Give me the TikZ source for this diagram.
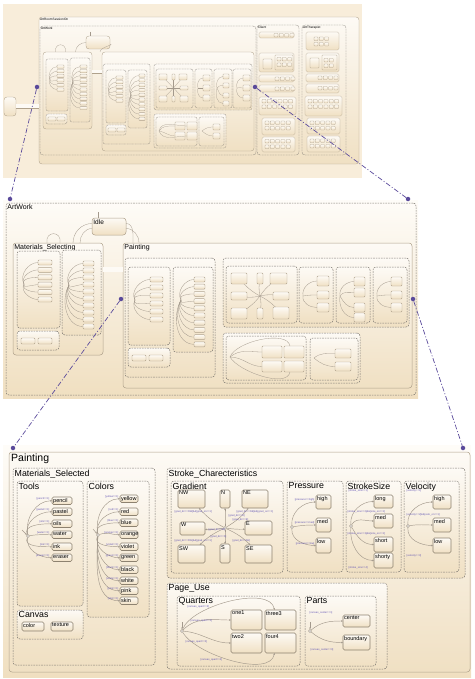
\documentclass[tikz,border=0pt]{standalone}
\usepackage{fontspec}
\setmainfont{Liberation Sans}
\usetikzlibrary{positioning, arrows.meta, calc}
\definecolor{panelTop}{HTML}{FEFCF8}
\definecolor{panelBot}{HTML}{F0DFC0}
\definecolor{panelFlat}{HTML}{F8EDDA}
\definecolor{stateTop}{HTML}{FDFAF5}
\definecolor{stateBot}{HTML}{F0E0C3}
\definecolor{stateLine}{HTML}{B0A28C}
\definecolor{groupLine}{HTML}{7F7A73}
\definecolor{transCol}{HTML}{A3998C}
\definecolor{labelCol}{HTML}{6659B5}
\definecolor{linkCol}{HTML}{5A4A9B}

\begin{document}
\begin{tikzpicture}[
    x=1pt, y=-1pt,
    % Node styles
    wh/.style 2 args={minimum width=#1, minimum height=#2},
    sstate/.style={
        rectangle,
        rounded corners=3pt,
        draw=stateLine,
        top color=stateTop,
        bottom color=stateBot,
        line width=0.5pt,
        inner sep=0pt,
        outer sep=0pt,
        anchor=north west
    },
    stbox/.style={
        sstate,
        rounded corners=1.5pt,
        draw=stateLine!80!black,
        line width=0.6pt
    },
    midbox/.style={
        sstate,
        rounded corners=1pt,
        line width=0.45pt
    },
    smallbox/.style={
        sstate,
        rounded corners=0.6pt,
        line width=0.3pt
    },
    dashbox/.style={
        rectangle,
        rounded corners=3pt,
        draw=groupLine,
        dash pattern=on 1.6pt off 1pt,
        line width=0.5pt,
        inner sep=0pt,
        outer sep=0pt,
        anchor=north west
    },
    grp/.style={
        dashbox,
        top color=stateTop,
        bottom color=stateBot
    },
    tinygrp/.style={
        grp,
        rounded corners=2pt,
        line width=0.3pt,
        dash pattern=on 1pt off 0.6pt
    },
    junction/.style={
        circle,
        draw=transCol,
        fill=white,
        line width=0.4pt,
        inner sep=0pt,
        minimum size=3pt
    },
    trans/.style={
        draw=transCol,
        line width=0.45pt,
        -{Stealth[length=2pt, width=1.6pt]}
    },
    thintrans/.style={
        draw=transCol,
        line width=0.3pt
    },
    pipe/.style={
        draw=stateLine,
        line width=0.4pt,
        double=stateTop,
        double distance=4.5pt
    },
    link/.style={
        draw=linkCol,
        line width=0.7pt,
        dash pattern=on 5pt off 2pt on 1pt off 2pt
    },
    zdot/.style={
        circle,
        fill=linkCol,
        inner sep=0pt,
        minimum size=4.5pt
    },
    % Text styles
    bigttl/.style={anchor=north west, inner sep=2pt, font=\fontsize{10.5}{12}\selectfont},
    ttl/.style={anchor=north west, inner sep=1.5pt, font=\fontsize{8.8}{10}\selectfont},
    midttl/.style={anchor=north west, inner sep=1.2pt, font=\fontsize{7}{8}\selectfont},
    tinyttl/.style={anchor=north west, inner sep=0.8pt, font=\fontsize{3.2}{3.5}\selectfont},
    stxt/.style={anchor=north west, inner sep=1pt, font=\fontsize{5.5}{6}\selectfont},
    tlab/.style={font=\fontsize{2.6}{3}\selectfont, text=labelCol, inner sep=0.4pt}
]
    \useasboundingbox (0,0) rectangle (474,679);

    % ==== PANEL 1: SESSION OVERVIEW ====
    \fill[panelFlat] (3,4) rectangle (362,178);
    \node[sstate, line width=0.35pt, wh={12}{19}] (offA) at (4,97) {};
    \node[sstate, line width=0.35pt, wh={320}{147}, label={[tinyttl]north west:ArtRoomSessionOn}] (sessA) at (39,17) {};
    \draw[pipe, line width=0.3pt, double distance=4pt] (offA.east) -- (offA.east -| sessA.west);
    \node[dashbox, line width=0.35pt, dash pattern=on 1pt off 0.6pt, wh={216}{129}, label={[tinyttl]north west:ArtWork}] (artA) at (40,26) {};

    \node[sstate, line width=0.35pt, wh={24}{13}] (idleA) at (86,36) {};
    \coordinate (idleAin) at (90,32);
    \draw[thintrans, line width=0.2pt] (idleAin) -- (idleAin |- idleA.north);

    % Materials_Selecting (thumbnail)
    \node[sstate, line width=0.35pt, wh={49}{77}] (matA) at (43,52) {};
    \node[tinygrp, wh={22}{52}] (toolsA) at (46,59) {};
    \node[tinygrp, wh={20}{64}] (colorsA) at (70,58) {};
    \node[tinygrp, wh={21}{10}] (canvasA) at (46,114) {};
    \foreach \i in {0,...,5} \node[smallbox, wh={7}{3.2}] (toolA\i) at (57,65+4.6*\i) {};
    \foreach \i in {0,...,9} \node[smallbox, wh={7}{3.2}] (colA\i) at (80,65+4.6*\i) {};
    \node[smallbox, wh={8}{4}] (cvA1) at (48,117) {};
    \node[smallbox, wh={8}{4}] (cvA2) at (57,117) {};
    \coordinate (jToolsA) at (50,80);
    \coordinate (jColorsA) at (73,82);
    \foreach \i in {0,...,5}{
        \pgfmathsetmacro\o{\i<3 ? 120 : -120}
        \draw[thintrans, line width=0.2pt] (jToolsA) to[out=\o, in=180] (toolA\i);
    }
    \foreach \i in {0,...,9}{
        \pgfmathsetmacro\o{\i<4 ? 120 : -120}
        \draw[thintrans, line width=0.2pt] (jColorsA) to[out=\o, in=180] (colA\i);
    }
    \draw[thintrans, line width=0.25pt] ([xshift=-12pt]matA.north) to[out=100, in=80, looseness=2.5] ([xshift=-2pt]matA.north);
    \draw[thintrans, line width=0.25pt] ([xshift=8pt]matA.north) to[out=90, in=180] (idleA.west);
    \draw[thintrans, line width=0.25pt] ([yshift=-2pt]idleA.east) to[out=0, in=90] ([xshift=8pt]matA.north east);

    % Painting (thumbnail)
    \node[sstate, line width=0.35pt, wh={152}{99}] (paintA) at (102,52) {};
    \draw[pipe, line width=0.3pt, double distance=3pt] (matA.east |- 0,72) -- (paintA.west |- 0,72);
    \node[tinygrp, wh={47}{80}] (matSelA) at (103,64) {};
    \node[tinygrp, wh={20}{53}] (toolsAp) at (106,70) {};
    \node[tinygrp, wh={19}{58}] (colorsAp) at (128,70) {};
    \node[tinygrp, wh={20}{10}] (canvasAp) at (106,125) {};
    \foreach \i in {0,...,5} \node[smallbox, wh={7}{3.2}] (toolAp\i) at (116,76+4.6*\i) {};
    \foreach \i in {0,...,9} \node[smallbox, wh={6}{3.2}] (colAp\i) at (139,74+4.8*\i) {};
    \node[smallbox, wh={8}{4}] (cvAp1) at (108,128) {};
    \node[smallbox, wh={8}{4}] (cvAp2) at (117,128) {};
    \coordinate (jToolsAp) at (109,92);
    \coordinate (jColorsAp) at (131,95);
    \foreach \i in {0,...,5}{
        \pgfmathsetmacro\o{\i<3 ? 120 : -120}
        \draw[thintrans, line width=0.2pt] (jToolsAp) to[out=\o, in=180] (toolAp\i);
    }
    \foreach \i in {0,...,9}{
        \pgfmathsetmacro\o{\i<4 ? 120 : -120}
        \draw[thintrans, line width=0.2pt] (jColorsAp) to[out=\o, in=180] (colAp\i);
    }

    \node[tinygrp, wh={98}{46}] (strokeA) at (154,64) {};
    \node[tinygrp, wh={37}{39}] (gradA) at (156,69) {};
    \node[tinygrp, wh={17}{39}] (pressA) at (195,69) {};
    \node[tinygrp, wh={18}{39}] (sizeA) at (214,69) {};
    \node[tinygrp, wh={18}{39}] (veloA) at (233,69) {};
    \foreach \nm/\x/\y/\w/\h in {NW/159/74/8/6, N/172/74/3/6, NE/179/74/8/6, W/159/86/8/4, E/180/86/8/4, SW/159/96/8/6, S/172/96/3/6, SE/180/96/8/6}
        \node[smallbox, wh={\w}{\h}] (gA\nm) at (\x,\y) {};
    \coordinate (jGradA) at (173.5,88);
    \foreach \nm in {NW,N,NE,W,E,SW,S,SE} \draw[thintrans, line width=0.2pt] (jGradA) -- (gA\nm);
    \foreach \y [count=\k] in {75,85,95} \node[smallbox, wh={7}{6}] (pA\k) at (203,\y) {};
    \foreach \y [count=\k] in {74,83,93,101} \node[smallbox, wh={6}{5}] (sA\k) at (223,\y) {};
    \foreach \y [count=\k] in {75,85,95} \node[smallbox, wh={7}{6}] (vA\k) at (243,\y) {};
    \coordinate (jPressA) at (198,88);
    \coordinate (jSizeA) at (217,88);
    \coordinate (jVeloA) at (237,88);
    \foreach \k/\o in {1/110, 2/20, 3/-110} \draw[thintrans, line width=0.2pt] (jPressA) to[out=\o, in=180] (pA\k);
    \foreach \k/\o in {1/110, 2/60, 3/-60, 4/-110} \draw[thintrans, line width=0.2pt] (jSizeA) to[out=\o, in=180] (sA\k);
    \foreach \k/\o in {1/110, 2/20, 3/-110} \draw[thintrans, line width=0.2pt] (jVeloA) to[out=\o, in=180] (vA\k);

    \node[tinygrp, wh={72}{34}] (pageA) at (154,114) {};
    \node[tinygrp, wh={41}{29}] (quartA) at (156,117) {};
    \node[tinygrp, wh={25}{29}] (partsA) at (199,117) {};
    \foreach \x/\y [count=\k] in {175/122, 187/122, 175/132, 187/132} \node[smallbox, wh={10}{8}] (qA\k) at (\x,\y) {};
    \node[smallbox, wh={7}{6}] (ptA1) at (213,124) {};
    \node[smallbox, wh={7}{6}] (ptA2) at (213,133) {};
    \coordinate (jQuartA) at (159,131);
    \coordinate (jPartsA) at (202,131);
    \foreach \k/\o in {1/60, 2/80, 3/-10, 4/-70} \draw[thintrans, line width=0.2pt] (jQuartA) to[out=\o, in=180] (qA\k);
    \draw[thintrans, line width=0.2pt] (jPartsA) to[out=40, in=180] (ptA1);
    \draw[thintrans, line width=0.2pt] (jPartsA) to[out=-40, in=180] (ptA2);

    % Client and ArtTherapist (thumbnail)
    \node[dashbox, line width=0.35pt, dash pattern=on 1pt off 0.6pt, wh={42}{130}, label={[tinyttl]north west:Client}] (clientA) at (257,25) {};
    \node[dashbox, line width=0.35pt, dash pattern=on 1pt off 0.6pt, wh={44}{130}, label={[tinyttl]north west:ArtTherapist}] (therA) at (302,25) {};
    \foreach \x/\y/\w/\h [count=\k] in {259/32/35/6, 259/53/35/19, 259/75/35/7, 259/85/35/7, 259/97/37/18, 262/118/33/17, 262/137/33/15}
        \node[sstate, rounded corners=1.5pt, line width=0.3pt, wh={\w}{\h}] (clA\k) at (\x,\y) {};
    \foreach \x/\y/\w/\h [count=\k] in {306/32/33/18, 306/53/33/19, 306/74/33/8, 306/84/33/9, 305/96/37/20, 307/118/33/16, 307/136/33/16}
        \node[sstate, rounded corners=1.5pt, line width=0.3pt, wh={\w}{\h}] (thA\k) at (\x,\y) {};
    \node[smallbox, wh={9}{10}] (clSq) at (263,59) {};
    \node[smallbox, wh={18}{15}] (clSub) at (275,55) {};
    \node[smallbox, wh={9}{10}] (thSq) at (310,58) {};
    \node[smallbox, wh={15}{15}] (thSub) at (322,55) {};
    \foreach \x/\y/\nc/\nr [count=\k] in {274/33.5/4/1, 277/57.5/3/2, 275/77/4/1, 275/87/4/1, 262/99.5/6/2, 265/121/5/2, 265/139.5/5/2}
        \foreach \c in {1,...,\nc} \foreach \r in {1,...,\nr}
            \node[smallbox, line width=0.25pt, wh={4}{3.5}] (sqC\k-\c-\r) at ({\x+5.3*(\c-1)},{\y+5.5*(\r-1)}) {};
    \foreach \x/\y/\nc/\nr [count=\k] in {314/37/3/2, 324/58.5/2/2, 318/76/4/1, 318/86.5/4/1, 308/99.5/6/2, 310/121/5/2, 310/139/5/2}
        \foreach \c in {1,...,\nc} \foreach \r in {1,...,\nr}
            \node[smallbox, line width=0.25pt, wh={4}{3.5}] (sqT\k-\c-\r) at ({\x+5.3*(\c-1)},{\y+5.5*(\r-1)}) {};

    % ==== PANEL 2: ARTWORK ====
    \fill[top color=panelTop, bottom color=panelBot] (3,200) rectangle (418,398);
    \node[dashbox, wh={410}{192}, label={[midttl]north west:ArtWork}] (artB) at (6,203) {};
    \node[sstate, wh={34}{17}, label={[midttl, font=\fontsize{6.5}{7}\selectfont]north west:Idle}] (idleB) at (92,218) {};
    \coordinate (idleBin) at (98,212);
    \draw[thintrans] (idleBin) -- (idleBin |- idleB.north);

    % Materials_Selecting
    \node[sstate, wh={90}{112}, label={[midttl]north west:Materials\_Selecting}] (matB) at (13,243) {};
    \node[grp, wh={43}{77}] (toolsB) at (17,251) {};
    \node[grp, wh={39}{85}] (colorsB) at (62,250) {};
    \node[grp, wh={42}{19}] (canvasB) at (17,331) {};
    \foreach \i in {0,...,5} \node[midbox, wh={14}{5}] (toolB\i) at (38,260+7.4*\i) {};
    \foreach \i in {0,...,9} \node[midbox, wh={11}{5}] (colB\i) at (83,261+7*\i) {};
    \node[midbox, wh={14}{6}] (cvB1) at (21,338) {};
    \node[midbox, wh={14}{6}] (cvB2) at (38,338) {};
    \coordinate (jToolsB) at (24,284);
    \coordinate (jColorsB) at (69,285);
    \foreach \i in {0,...,5}{
        \pgfmathsetmacro\o{\i<3 ? 120 : -120}
        \draw[thintrans] (jToolsB) to[out=\o, in=180] (toolB\i);
    }
    \foreach \i in {0,...,9}{
        \pgfmathsetmacro\o{\i<3 ? 120 : -120}
        \draw[thintrans] (jColorsB) to[out=\o, in=180] (colB\i);
    }
    \draw[thintrans] ([xshift=-11pt]matB.north) to[out=100, in=80, looseness=2.5] ([xshift=2pt]matB.north);
    \draw[thintrans] ([xshift=15pt]matB.north) to[out=90, in=180] ([yshift=3pt]idleB.west);
    \draw[thintrans] ([yshift=-2pt]idleB.west) to[out=180, in=90] ([xshift=22pt]matB.north);

    % Painting
    \node[sstate, wh={289}{145}, label={[midttl]north west:Painting}] (paintB) at (123,243) {};
    \draw[thintrans] ([yshift=3pt]idleB.east) to[out=0, in=90] ([xshift=10pt]paintB.north west);
    \draw[thintrans] ([yshift=-2pt]idleB.east) to[out=0, in=90] ([xshift=16pt]paintB.north west);
    \draw[pipe] (matB.east |- 0,269.5) -- (paintB.west |- 0,269.5);
    \node[grp, wh={90}{119}] (matSelB) at (125,258) {};
    \node[grp, wh={42}{78}] (toolsBp) at (128,267) {};
    \node[grp, wh={40}{85}] (colorsBp) at (173,267) {};
    \node[grp, wh={42}{19}] (canvasBp) at (128,348) {};
    \foreach \i in {0,...,5} \node[midbox, wh={13}{5}] (toolBp\i) at (150,277+8*\i) {};
    \foreach \i in {0,...,9} \node[midbox, wh={11}{5}] (colBp\i) at (194,277+7.2*\i) {};
    \node[midbox, wh={14}{6}] (cvBp1) at (132,355) {};
    \node[midbox, wh={14}{6}] (cvBp2) at (149,355) {};
    \coordinate (jToolsBp) at (135,300);
    \coordinate (jColorsBp) at (181,300);
    \foreach \i in {0,...,5}{
        \pgfmathsetmacro\o{\i<3 ? 120 : -120}
        \draw[thintrans] (jToolsBp) to[out=\o, in=180] (toolBp\i);
    }
    \foreach \i in {0,...,9}{
        \pgfmathsetmacro\o{\i<3 ? 120 : -120}
        \draw[thintrans] (jColorsBp) to[out=\o, in=180] (colBp\i);
    }

    \node[grp, wh={186}{69}] (strokeB) at (223,258) {};
    \node[grp, wh={71}{57}] (gradB) at (226,266) {};
    \node[grp, wh={34}{56}] (pressB) at (299,267) {};
    \node[grp, wh={34}{56}] (sizeB) at (336,267) {};
    \node[grp, wh={34}{56}] (veloB) at (373,267) {};
    \foreach \nm/\x/\y/\w/\h in {NW/231/273/16/11, N/257/273/6/11, NE/270/273/17/11, W/231/292/16/8, E/273/292/16/8, SW/231/308/16/11, S/257/308/6/11, SE/273/307/16/12}
        \node[midbox, wh={\w}{\h}] (gB\nm) at (\x,\y) {};
    \coordinate (jGradB) at (260,296);
    \foreach \nm in {NW,N,NE,W,E,SW,S,SE} \draw[thintrans] (jGradB) to[bend left=8] (gB\nm);
    \foreach \y/\h [count=\k] in {276/10, 291/8, 303/9} \node[midbox, wh={12}{\h}] (pB\k) at (317,\y) {};
    \foreach \y [count=\k] in {277, 288, 303, 313} \node[midbox, wh={11}{9}] (sB\k) at (354,\y) {};
    \foreach \y/\h [count=\k] in {277/9, 291/8, 303/9} \node[midbox, wh={11}{\h}] (vB\k) at (391,\y) {};
    \coordinate (jPressB) at (303,296);
    \coordinate (jSizeB) at (340,296);
    \coordinate (jVeloB) at (377,296);
    \foreach \k/\o in {1/100, 2/10, 3/-100} \draw[thintrans] (jPressB) to[out=\o, in=180] (pB\k);
    \foreach \k/\o in {1/100, 2/60, 3/-60, 4/-100} \draw[thintrans] (jSizeB) to[out=\o, in=180] (sB\k);
    \foreach \k/\o in {1/100, 2/10, 3/-100} \draw[thintrans] (jVeloB) to[out=\o, in=180] (vB\k);

    \node[grp, wh={137}{50}] (pageB) at (223,333) {};
    \node[grp, wh={80}{44}] (quartB) at (226,336) {};
    \node[grp, wh={48}{42}] (partsB) at (310,338) {};
    \foreach \x/\y/\h [count=\k] in {262/346/12, 284/346/12, 262/361/11, 284/361/11} \node[midbox, wh={20}{\h}] (qB\k) at (\x,\y) {};
    \node[midbox, wh={16}{9}] (ptB1) at (335,349) {};
    \node[midbox, wh={16}{9}] (ptB2) at (335,362) {};
    \coordinate (jQuartB) at (230,357);
    \coordinate (jPartsB) at (314,358);
    \draw[thintrans] (jQuartB) to[out=40, in=180] (qB1);
    \draw[thintrans] (jQuartB) to[out=70, in=100, looseness=0.7] ([xshift=-4pt]qB2.north);
    \draw[thintrans] (jQuartB) to[out=0, in=180] (qB3);
    \draw[thintrans] (jQuartB) to[out=-60, in=-100, looseness=0.7] ([xshift=-4pt]qB4.south);
    \draw[thintrans] (jPartsB) to[out=40, in=180] (ptB1);
    \draw[thintrans] (jPartsB) to[out=-40, in=180] (ptB2);

    % ==== PANEL 3: PAINTING DETAIL ====
    \fill[top color=panelTop, bottom color=panelBot] (3,445) rectangle (471,677);
    \node[sstate, wh={461}{220}, label={[bigttl]north west:Painting}] (paintC) at (9,452) {};

    % Materials_Selected
    \node[grp, wh={142}{197}, label={[ttl]north west:Materials\_Selected}] (matC) at (13,468) {};
    \node[grp, wh={66}{125}, label={[ttl]north west:Tools}] (toolsC) at (17,481) {};
    \node[grp, wh={62}{136}, label={[ttl]north west:Colors}] (colorsC) at (87,481) {};
    \node[grp, wh={66}{29}, label={[ttl]north west:Canvas}] (canvasC) at (17,610) {};

    \foreach \nm/\y in {pencil/497, pastel/508, oils/520, water/531, ink/543, eraser/554}
        \node[stbox, wh={20}{7.5}, label={[stxt]north west:\nm}] (tool-\nm) at (52,\y) {};
    \node[junction] (jTools) at (28,536) {};
    \coordinate (iTools) at (22,530);
    \draw[trans] (iTools) -- (jTools);
    \foreach \nm/\o in {pencil/100, pastel/105, oils/115, water/10, ink/-115, eraser/-100}{
        \draw[trans] (jTools) to[out=\o, in=180] (tool-\nm);
        \node[tlab, anchor=south east] (lt-\nm) at ([xshift=-2pt]tool-\nm.west) {[\nm==1]};
    }

    \foreach \nm/\y in {yellow/495, red/508, blue/519, orange/531, violet/543, green/554, black/566, white/577, pink/587, skin/597}
        \node[stbox, wh={18}{7.5}, label={[stxt]north west:\nm}] (col-\nm) at (120,\y) {};
    \node[junction] (jColors) at (98,535) {};
    \coordinate (iColors) at (93,529);
    \draw[trans] (iColors) -- (jColors);
    \foreach \nm/\o in {yellow/100, red/103, blue/110, orange/20, violet/-115, green/-105, black/-100, white/-97, pink/-95, skin/-93}{
        \draw[trans] (jColors) to[out=\o, in=180] (col-\nm);
        \node[tlab, anchor=south east] (lc-\nm) at ([xshift=-1pt]col-\nm.west) {[\nm==1]};
    }

    \node[stbox, wh={22}{9}, label={[stxt]north west:color}] (cv-color) at (22,622) {};
    \node[stbox, wh={22}{9}, label={[stxt]north west:texture}] (cv-texture) at (51,622) {};

    % Stroke_Charecteristics
    \node[grp, wh={298}{110}, label={[ttl]north west:Stroke\_Charecteristics}] (strokeC) at (167,468) {};
    \node[grp, wh={112}{92}, label={[ttl]north west:Gradient}] (gradC) at (171,481) {};
    \node[grp, wh={56}{91}, label={[ttl]north west:Pressure}] (pressC) at (287,481) {};
    \node[grp, wh={55}{91}, label={[ttl]north west:StrokeSize}] (sizeC) at (346,481) {};
    \node[grp, wh={55}{91}, label={[ttl]north west:Velocity}] (veloC) at (404,481) {};

    \foreach \nm/\x/\y/\w/\h in {NW/178/490/27/18, N/220/490/10/18, NE/242/490/26/18, W/180/522/25/13, E/245/521/27/14, SW/178/545/27/18, S/220/544/10/19, SE/245/545/27/18}
        \node[stbox, wh={\w}{\h}, label={[stxt]north west:\nm}] (g-\nm) at (\x,\y) {};
    \node[junction] (jGrad) at (225,528) {};
    \foreach \nm/\b in {NW/10, N/0, NE/-10, W/5, E/-5, SW/-10, S/0, SE/10}
        \draw[trans] (jGrad) to[bend left=\b] (g-\nm);
    \node[tlab, anchor=west] (lg-NW) at (174,512) {[grad\_dir==NW]\&\&[grad\_on==1]};
    \node[tlab, anchor=west] (lg-NE) at (236,512) {[grad\_dir==NE]\&\&[grad\_on==1]};
    \node[tlab, anchor=west] (lg-N) at (228,516) {[grad\_dir==N]};
    \node[tlab, anchor=west] (lg-E) at (232,520) {[grad\_dir==E]};
    \node[tlab, anchor=west] (lg-W) at (208,530) {[grad\_dir==W]};
    \node[tlab, anchor=west] (lg-S) at (210,537) {[grad\_dir==S]};
    \node[tlab, anchor=west] (lg-SW) at (174,541) {[grad\_dir==SW]\&\&[grad\_on==1]};
    \node[tlab, anchor=west] (lg-SE) at (232,541) {[grad\_dir==SE]};

    \node[junction] (jPress) at (292,527) {};
    \foreach \nm/\y/\h/\o in {high/495/14/95, med/518/14/10, low/538/15/-95}{
        \node[stbox, wh={15}{\h}, label={[stxt]north west:\nm}] (p-\nm) at (316,\y) {};
        \draw[trans] (jPress) to[out=\o, in=180] (p-\nm);
        \node[tlab, anchor=south east] (lp-\nm) at ([xshift=-1pt]p-\nm.west) {[pressure==\nm]};
    }

    \node[junction] (jSize) at (351,526) {};
    \foreach \nm/\y/\h/\o in {long/495/13/95, med/514/14/60, short/537/15/-60, shorty/553/15/-95}{
        \node[stbox, wh={19}{\h}, label={[stxt]north west:\nm}] (s-\nm) at (374,\y) {};
        \draw[trans] (jSize) to[out=\o, in=180] (s-\nm);
    }
    \node[tlab, anchor=west] (ls-long) at (348,491) {[stroke\_size==1]};
    \node[tlab, anchor=west] (ls-med) at (347,512) {[stroke\_size==2]\&\&[size\_on==1]};
    \node[tlab, anchor=west] (ls-short) at (347,534) {[stroke\_size==3]\&\&[size\_on==1]};
    \node[tlab, anchor=west] (ls-shorty) at (348,568) {[stroke\_size==4]};

    \node[junction] (jVelo) at (408,526) {};
    \foreach \nm/\y/\h/\o in {high/495/14/95, med/518/14/10, low/538/15/-95}{
        \node[stbox, wh={18}{\h}, label={[stxt]north west:\nm}] (v-\nm) at (433,\y) {};
        \draw[trans] (jVelo) to[out=\o, in=180] (v-\nm);
    }
    \node[tlab, anchor=west] (lv-high) at (406,491) {[velocity==1]};
    \node[tlab, anchor=west] (lv-med) at (406,515) {[velocity==2]\&\&[velo\_on==1]};
    \node[tlab, anchor=west] (lv-low) at (406,556) {[velocity==3]};

    % Page_Use
    \node[grp, wh={220}{86}, label={[ttl]north west:Page\_Use}] (pageC) at (167,583) {};
    \node[grp, wh={123}{70}, label={[ttl]north west:Quarters}] (quartC) at (177,596) {};
    \node[grp, wh={71}{70}, label={[ttl]north west:Parts}] (partsC) at (305,596) {};
    \foreach \nm/\x/\y in {one1/231/610, three3/265/610, two2/231/633, four4/265/633}
        \node[stbox, wh={31}{20}, label={[stxt]north west:\nm}] (q-\nm) at (\x,\y) {};
    \node[junction] (jQuart) at (182,631) {};
    \coordinate (iQuart) at (182,622);
    \draw[trans] (iQuart) -- (jQuart);
    \draw[trans] (jQuart) to[out=45, in=180] (q-one1);
    \draw[trans] (jQuart) to[out=70, in=100, looseness=0.7] ([xshift=-6pt]q-three3.north);
    \draw[trans] (jQuart) to[out=-5, in=180] (q-two2);
    \draw[trans] (jQuart) to[out=-60, in=-100, looseness=0.7] ([xshift=-6pt]q-four4.south);
    \node[tlab, anchor=west] (lq-three3) at (187,607) {[canvas\_quart==3]};
    \node[tlab, anchor=west] (lq-one1) at (190,621) {[canvas\_quart==1]};
    \node[tlab, anchor=west] (lq-two2) at (185,642) {[canvas\_quart==2]};
    \node[tlab, anchor=west] (lq-four4) at (200,660) {[canvas\_quart==4]};

    \node[stbox, wh={27}{12}, label={[stxt]north west:center}] (pt-center) at (343,615) {};
    \node[stbox, wh={27}{15}, label={[stxt]north west:boundary}] (pt-boundary) at (343,635) {};
    \node[junction] (jParts) at (310,631) {};
    \coordinate (iParts) at (310,622);
    \draw[trans] (iParts) -- (jParts);
    \draw[trans] (jParts) to[out=40, in=180] (pt-center);
    \draw[trans] (jParts) to[out=-40, in=180] (pt-boundary);
    \node[tlab, anchor=west] (lpt-center) at (309,613) {[canvas\_center==1]};
    \node[tlab, anchor=west] (lpt-boundary) at (310,650) {[canvas\_center==0]};

    % ==== ZOOM LINKS ====
    \node[zdot] (zA1) at (37,87) {};
    \node[zdot] (zA2) at (255,87) {};
    \node[zdot] (zB1) at (10,199) {};
    \node[zdot] (zB2) at (408,199) {};
    \node[zdot] (zB3) at (121,299) {};
    \node[zdot] (zB4) at (413,299) {};
    \node[zdot] (zC1) at (13,448) {};
    \node[zdot] (zC2) at (463,448) {};
    \draw[link] (zA1) -- (zB1);
    \draw[link] (zA2) -- (zB2);
    \draw[link] (zB3) -- (zC1);
    \draw[link] (zB4) -- (zC2);

\end{tikzpicture}
\end{document}
